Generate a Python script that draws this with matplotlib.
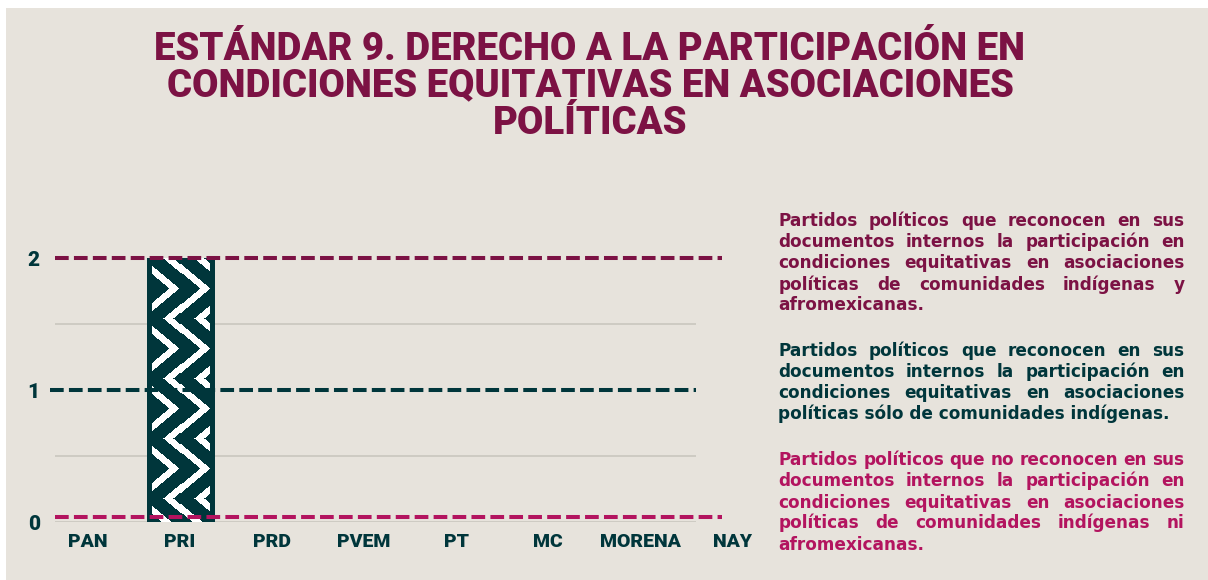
import matplotlib
matplotlib.use('Agg')
import matplotlib.pyplot as plt
from matplotlib.patches import Rectangle
import numpy as np

# data
partidos = ['PAN', 'PRI', 'PRD', 'PVEM', 'PT', 'MC', 'MORENA', 'NAY']
valores = [0, 2, 0, 0, 0, 0, 0, 0]
niveles = [2, 1, 0.035]
yticks = [0, 1, 2]

titulo = ['ESTÁNDAR 9. DERECHO A LA PARTICIPACIÓN EN',
          'CONDICIONES EQUITATIVAS EN ASOCIACIONES',
          'POLÍTICAS']

parrafos = [
    ['Partidos políticos que reconocen en sus',
     'documentos internos la participación en',
     'condiciones equitativas en asociaciones',
     'políticas de comunidades indígenas y',
     'afromexicanas.'],
    ['Partidos políticos que reconocen en sus',
     'documentos internos la participación en',
     'condiciones equitativas en asociaciones',
     'políticas sólo de comunidades indígenas.'],
    ['Partidos políticos que no reconocen en sus',
     'documentos internos la participación en',
     'condiciones equitativas en asociaciones',
     'políticas de comunidades indígenas ni',
     'afromexicanas.'],
]

BG = '#E7E3DC'
MAROON = '#7C1244'
TEAL = '#00363B'
MAGENTA = '#B3145F'
colores_niveles = [MAROON, TEAL, MAGENTA]
colores_parrafos = [MAROON, TEAL, MAGENTA]
COND = ['Roboto', 'DejaVu Sans']

W, H = 1208, 580
fig = plt.figure(figsize=(W / 100, H / 100), dpi=100, facecolor='white')
fig.patches.append(Rectangle((6 / W, 0), 1 - 6 / W, 1 - 8 / H, transform=fig.transFigure,
                             facecolor=BG, edgecolor='none', zorder=-10))

# title
for i, linea in enumerate(titulo):
    fig.text(590 / W, 1 - (49 + 37 * i) / H, linea, ha='center', va='center',
             fontsize=27.5, fontweight='black', family=COND, color=MAROON)

# chart
ax = fig.add_axes([55 / W, 58 / H, 690.8 / W, 2.05 * 132 / H])
ax.set_facecolor('none')
x = np.arange(len(partidos))
ax.set_xlim(-0.36, 7.15)
ax.set_ylim(0, 2.05)

for yv in [0, 0.5, 1.5]:
    ax.hlines(yv, -0.36, 6.61, color='#C9C7BF', lw=1.2, zorder=1)

bars = ax.bar(x, valores, width=0.73, color=TEAL, zorder=2)

# chevron texture on the bar
bw, bh = 67, 264
uu, vv = np.meshgrid(np.arange(bw), np.arange(bh))
tri = np.abs((vv % 60) - 30) * 1.2
tex = (((uu + 8 + tri) % 30) < 10) & (uu > 4) & (uu < bw - 5)
cmap = matplotlib.colors.ListedColormap([TEAL, 'white'])
for b in bars:
    if b.get_height() > 0:
        im = ax.imshow(tex.astype(float), extent=[b.get_x(), b.get_x() + b.get_width(), 0, b.get_height()],
                       cmap=cmap, aspect='auto', interpolation='nearest', zorder=3)
        im.set_clip_path(b)

ends = [6.89, 6.61, 6.89]
starts = [-0.36, -0.41, -0.36]
for yv, c, x0, x1 in zip(niveles, colores_niveles, starts, ends):
    ln, = ax.plot([x0, x1], [yv, yv], color=c, lw=2.9, zorder=4, clip_on=False,
                  solid_capstyle='butt', dash_capstyle='butt')
    ln.set_dashes((3.4, 1.3))

ax.set_xticks(x)
ax.set_xticklabels(partidos)
ax.set_yticks(yticks)
ax.tick_params(length=0)
ax.tick_params(axis='x', pad=8)
ax.tick_params(axis='y', pad=11)
for lab in ax.get_xticklabels():
    lab.set_fontsize(14)
    lab.set_fontweight('black')
    lab.set_family(COND)
    lab.set_color(TEAL)
for lab in ax.get_yticklabels():
    lab.set_fontsize(15)
    lab.set_fontweight('black')
    lab.set_family(COND)
    lab.set_color(TEAL)
for s in ax.spines.values():
    s.set_visible(False)
ax.set_xlim(-0.36, 7.15)

# justified legend text on the right
renderer = fig.canvas.get_renderer()
FS = 12.2
FAM = 'DejaVu Sans'
left, right = 778.5, 1184.5
bases = [[226, 247, 268, 289.5, 310.5],
         [356, 377, 398, 419],
         [465, 486.5, 507.5, 528.5, 549.5]]


def ancho(s):
    t = fig.text(0, 0, s, fontsize=FS, fontweight='bold', family=FAM)
    w = t.get_window_extent(renderer).width
    t.remove()
    return w


for par, col, ys in zip(parrafos, colores_parrafos, bases):
    for k, (linea, yb) in enumerate(zip(par, ys)):
        words = linea.split(' ')
        if k == len(par) - 1 or len(words) == 1:
            fig.text(left / W, 1 - yb / H, linea, fontsize=FS, fontweight='bold', family=FAM,
                     color=col, ha='left', va='baseline')
            continue
        ws = [ancho(w) for w in words]
        gap = (right - left - sum(ws)) / (len(words) - 1)
        xp = left
        for w, wd in zip(words, ws):
            fig.text(xp / W, 1 - yb / H, w, fontsize=FS, fontweight='bold', family=FAM,
                     color=col, ha='left', va='baseline')
            xp += wd + gap

fig.savefig('out.png', dpi=100, facecolor='white')
